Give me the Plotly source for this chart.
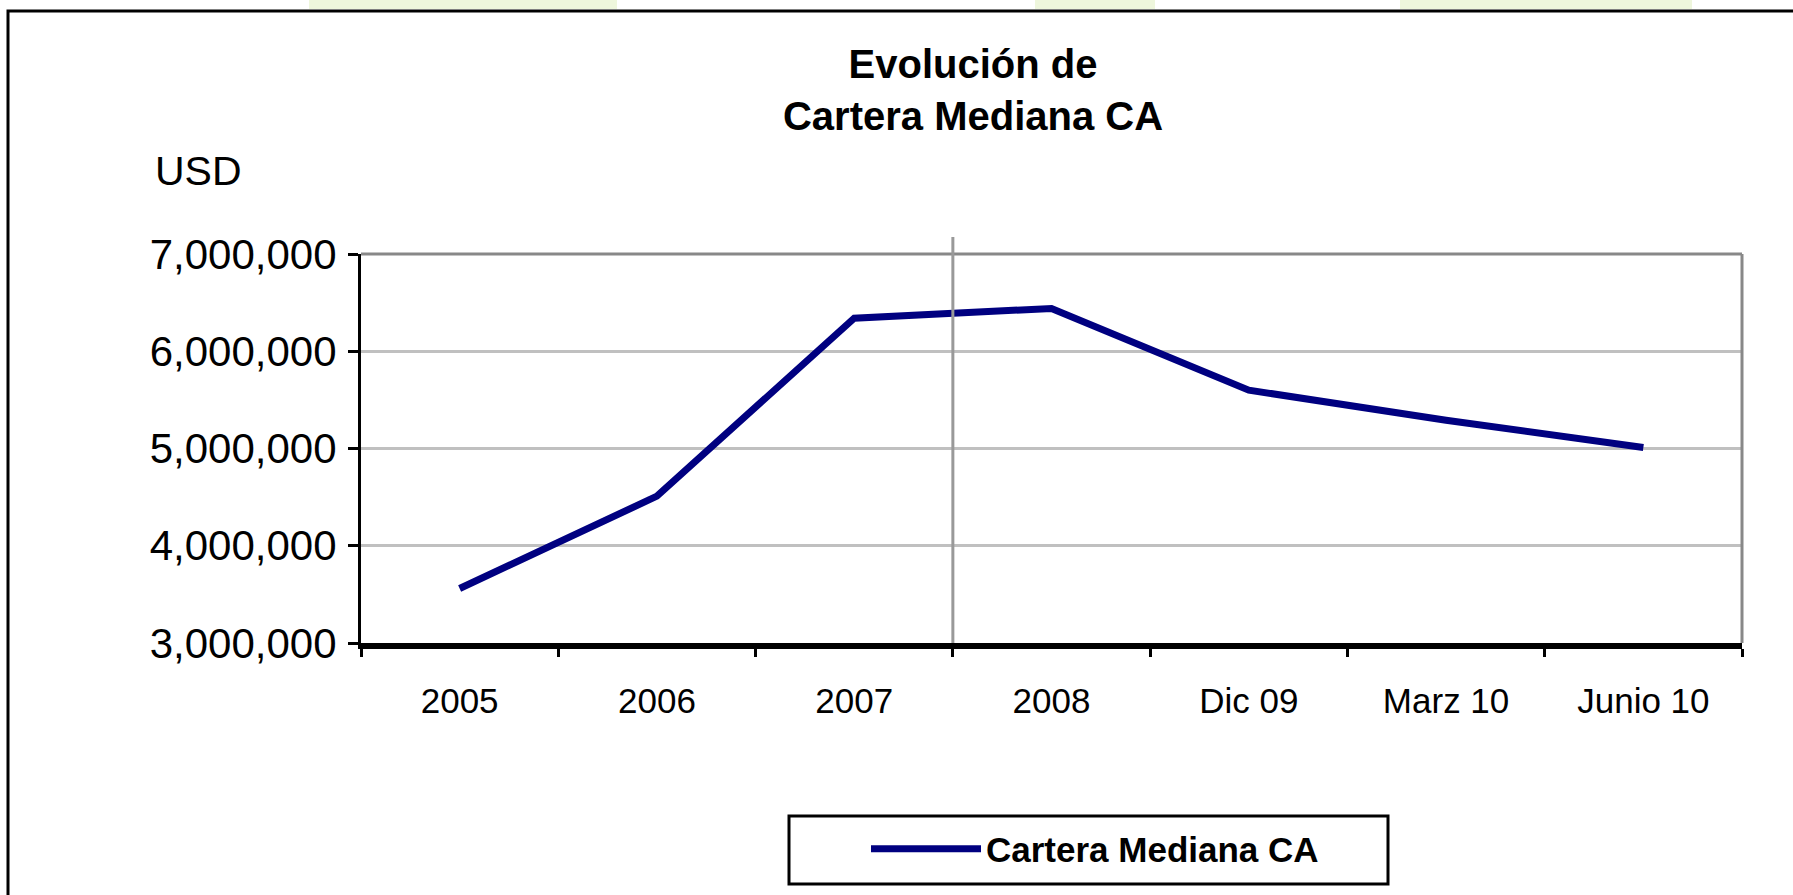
import plotly.graph_objects as go

# data
periods = ["2005", "2006", "2007", "2008", "Dic 09", "Marz 10", "Junio 10"]
cartera_mediana = [3560000, 4510000, 6340000, 6440000, 5600000, 5290000, 5010000]
series_name = "Cartera Mediana CA"
y_ticks = [3000000, 4000000, 5000000, 6000000, 7000000]

W, H = 1793, 895
L, R, T, B = 361, 51, 254, 252
pw, ph = W - L - R, H - T - B


def px(x):
    return (x - L) / pw


def py(y):
    return (H - B - y) / ph


fig = go.Figure()
fig.add_trace(go.Scatter(
    x=periods,
    y=cartera_mediana,
    mode="lines",
    name="<b>" + series_name + "</b>",
    line=dict(color="#000080", width=7),
))

shapes = [
    # outer frame of the slide chart (runs off the right/bottom edge)
    dict(type="rect", xref="paper", yref="paper",
         x0=px(8), x1=px(W + 20), y0=py(11), y1=py(H + 20),
         line=dict(color="black", width=3)),
    # plot area top and right border
    dict(type="line", xref="paper", yref="paper", x0=0, x1=1, y0=1, y1=1,
         line=dict(color="#888888", width=3)),
    dict(type="line", xref="paper", yref="paper", x0=1, x1=1, y0=0, y1=1,
         line=dict(color="#888888", width=3)),
    # separator between 2007 and 2008
    dict(type="line", xref="x", yref="paper", x0=2.5, x1=2.5, y0=0, y1=py(237),
         line=dict(color="#999999", width=3)),
    # legend box
    dict(type="rect", xref="paper", yref="paper",
         x0=px(789), x1=px(1388), y0=py(816), y1=py(884),
         line=dict(color="black", width=3)),
]
# faint green background pattern peeking above the frame
for x0, x1 in [(309, 617), (1035, 1155), (1400, 1692)]:
    shapes.append(dict(type="rect", xref="paper", yref="paper",
                       x0=px(x0), x1=px(x1), y0=py(9), y1=py(0),
                       line=dict(width=0), fillcolor="#eef6dc", layer="below"))

fig.update_layout(
    width=W, height=H,
    margin=dict(l=L, r=R, t=T, b=B, pad=0, autoexpand=False),
    paper_bgcolor="white",
    plot_bgcolor="white",
    font=dict(family="Liberation Sans, Arial, sans-serif", color="black"),
    title=dict(
        text="<b>Evolución de<br>Cartera Mediana CA</b>",
        font=dict(size=40, color="black"),
        x=px(973), xref="paper", xanchor="center",
        y=1 - 78 / H, yref="container", yanchor="middle",
    ),
    showlegend=True,
    legend=dict(
        x=866 / W, y=1 - 849 / H, xanchor="left", yanchor="middle",
        xref="container", yref="container",
        font=dict(size=35, color="black", family="Liberation Sans, Arial, sans-serif"),
        itemwidth=110,
        bgcolor="rgba(0,0,0,0)",
        borderwidth=0,
    ),
    shapes=shapes,
    annotations=[
        dict(text="USD", xref="paper", yref="paper", x=px(198), y=py(171),
             xanchor="center", yanchor="middle", showarrow=False,
             font=dict(size=41, color="black")),
    ],
)

fig.update_xaxes(
    type="category",
    range=[-0.5, 6.5],
    showgrid=False,
    showline=True, linecolor="black", linewidth=6,
    ticks="outside", tickson="boundaries", tickcolor="black", tickwidth=3, ticklen=8,
    tickfont=dict(size=35, color="black"),
    ticklabelstandoff=22,
    zeroline=False,
)
fig.update_yaxes(
    range=[3000000, 7000000],
    tickvals=y_ticks,
    tickformat=",d",
    showgrid=True, gridcolor="#c0c0c0", gridwidth=3,
    showline=True, linecolor="black", linewidth=3,
    ticks="outside", tickcolor="black", tickwidth=3, ticklen=10,
    tickfont=dict(size=42, color="black"),
    ticklabelstandoff=3,
    zeroline=False,
)

# the page's default 8px body margin would shift the whole chart
fig.write_html(
    "out.html",
    config={"displayModeBar": False},
    post_script="document.body.style.margin = '0px';",
)
